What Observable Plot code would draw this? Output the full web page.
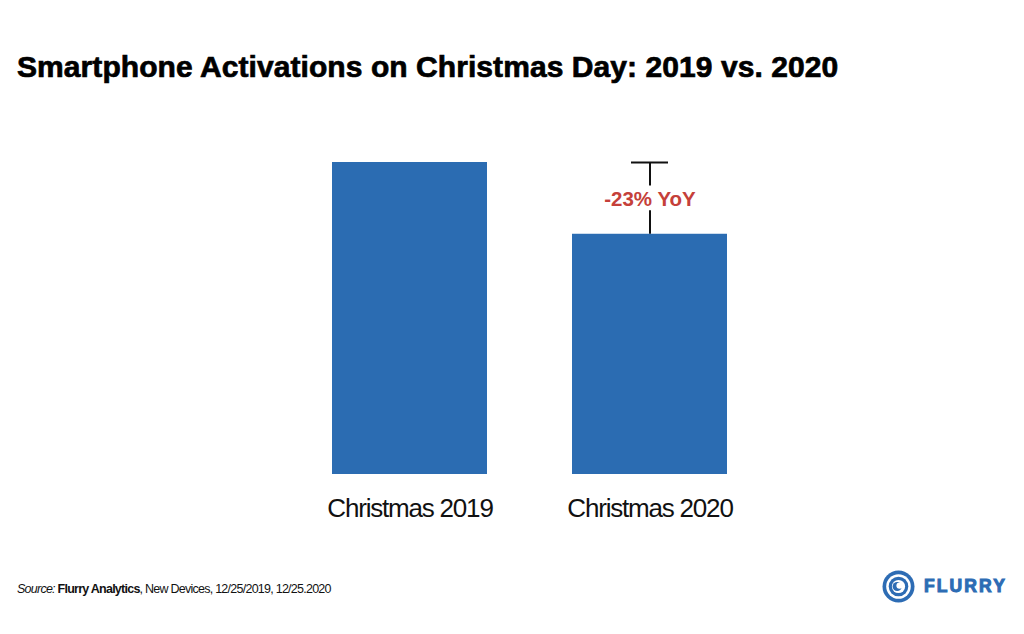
<!DOCTYPE html>
<html>
<head>
<meta charset="utf-8">
<script src="https://cdn.jsdelivr.net/npm/d3@7"></script>
<script src="https://cdn.jsdelivr.net/npm/@observablehq/plot@0.6"></script>
<style>
  html, body { margin: 0; padding: 0; background: #fff; }
  #page { position: relative; width: 1024px; height: 634px; overflow: hidden; font-family: "Liberation Sans", Arial, sans-serif; color: #111; }
  #title { position: absolute; left: 17px; top: 52px; font-size: 30px; line-height: 1; font-weight: bold; white-space: nowrap; letter-spacing: 0.07px; -webkit-text-stroke: 0.7px #000; color: #000; }
  #chart { position: absolute; left: 0; top: 0; }
  #chart g[aria-label="x-axis tick label"] text { letter-spacing: -1.2px; }
  #source { position: absolute; left: 17px; top: 583px; font-size: 12.5px; line-height: 1; white-space: nowrap; letter-spacing: -0.75px; color: #111; }
  #logo { position: absolute; left: 882px; top: 570px; display: flex; align-items: center; }
  #logo span { font-weight: bold; font-size: 17.5px; letter-spacing: 2.1px; color: #2d6cb4; margin-left: 9px; -webkit-text-stroke: 1px #2d6cb4; }
</style>
</head>
<body>
<div id="page">
  <div id="chart"></div>
  <div id="title"></div>
  <div id="source"><i>Source:</i> <b>Flurry Analytics</b>, New Devices, 12/25/2019, 12/25.2020</div>
  <div id="logo">
    <svg width="33" height="33" viewBox="0 0 33 33">
      <circle cx="16.5" cy="16.5" r="16" fill="#2d6cb4"/>
      <circle cx="16.5" cy="16.5" r="12.3" fill="#fff"/>
      <circle cx="16.5" cy="16.5" r="9.8" fill="#2d6cb4"/>
      <circle cx="16.5" cy="16.5" r="6.6" fill="#fff"/>
      <circle cx="15.2" cy="16.5" r="4.6" fill="#2d6cb4"/>
      <circle cx="17.6" cy="15.6" r="3.2" fill="#fff"/>
    </svg>
    <span>FLURRY</span>
  </div>
</div>
<script>
const titleText = "Smartphone Activations on Christmas Day: 2019 vs. 2020";
const categories = ["Christmas 2019", "Christmas 2020"];
const values = [100, 77];
const changeLabel = "-23% YoY";

document.getElementById("title").textContent = titleText;

const data = categories.map((c, i) => ({category: c, value: values[i]}));
const base = values[0];
const cur = values[1];
const mid = (base + cur) / 2;
const gap = 4;

const chart = Plot.plot({
  width: 1024,
  height: 634,
  marginTop: 162,
  marginBottom: 160,
  marginLeft: 332,
  marginRight: 296,
  style: {fontFamily: "'Liberation Sans', Arial, sans-serif", fontSize: "26px", color: "#111", background: "transparent"},
  x: {domain: categories, paddingInner: 0.353, paddingOuter: 0, label: null, tickSize: 0, tickPadding: 24.5},
  y: {domain: [0, base], axis: null},
  marks: [
    Plot.barY(data, {x: "category", y: "value", fill: "#2b6cb2"}),
    Plot.ruleX([{category: categories[1], y1: cur, y2: mid - gap}], {x: "category", y1: "y1", y2: "y2", stroke: "#111", strokeWidth: 2}),
    Plot.ruleX([{category: categories[1], y1: mid + gap, y2: base}], {x: "category", y1: "y1", y2: "y2", stroke: "#111", strokeWidth: 2}),
    Plot.tickY([{category: categories[1], value: base}], {x: "category", y: "value", stroke: "#111", strokeWidth: 2, insetLeft: 59, insetRight: 59}),
    Plot.text([{category: categories[1], value: mid}], {x: "category", y: "value", text: () => changeLabel, fill: "#c5403a", fontSize: 20.5, fontWeight: "bold", dy: 1})
  ]
});
document.getElementById("chart").appendChild(chart);
</script>
</body>
</html>
